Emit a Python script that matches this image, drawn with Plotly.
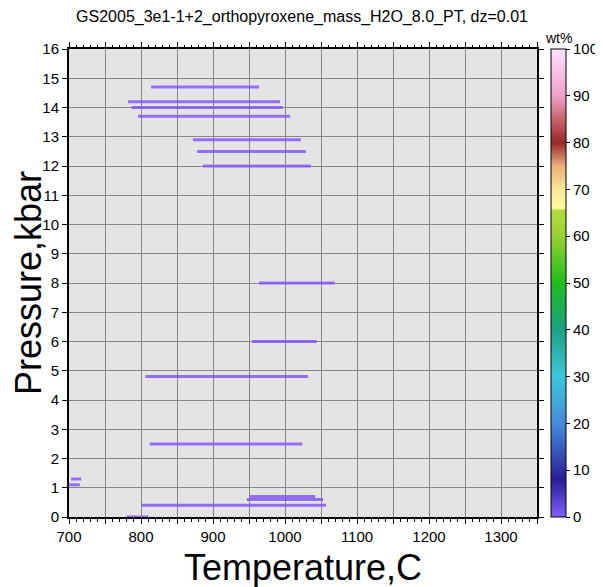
import plotly.graph_objects as go

# segment data: start temperature, end temperature (C), pressure (kbar)
t_start = [814, 782, 787, 796, 872, 878, 886, 964, 954, 806, 812, 703, 700, 951, 947, 801, 780]
t_end   = [964, 993, 997, 1007, 1022, 1029, 1036, 1069, 1044, 1032, 1024, 717, 715, 1042, 1053, 1057, 810]
pressure = [14.7, 14.2, 14.0, 13.7, 12.9, 12.5, 12.0, 8.0, 6.0, 4.8, 2.5, 1.3, 1.1, 0.7, 0.6, 0.4, 0.0]

x_tick_vals = list(range(700, 1351, 50))
x_tick_text = [str(v) if v % 100 == 0 else "" for v in x_tick_vals]
y_tick_vals = list(range(0, 17))
cb_tick_vals = list(range(0, 101, 10))

colorscale = [
    [0.00, "rgb(128,96,255)"],
    [0.08, "rgb(40,30,150)"],
    [0.20, "rgb(70,140,220)"],
    [0.30, "rgb(60,200,220)"],
    [0.40, "rgb(30,160,130)"],
    [0.50, "rgb(30,190,30)"],
    [0.60, "rgb(150,210,50)"],
    [0.655, "rgb(180,220,60)"],
    [0.66, "rgb(255,250,160)"],
    [0.70, "rgb(250,230,150)"],
    [0.75, "rgb(235,175,125)"],
    [0.80, "rgb(150,40,40)"],
    [0.85, "rgb(200,100,110)"],
    [0.90, "rgb(240,160,200)"],
    [1.00, "rgb(255,225,255)"],
]

xs, ys = [], []
for a, b, p in zip(t_start, t_end, pressure):
    xs += [a, b, None]
    ys += [p, p, None]

fig = go.Figure()
fig.add_trace(go.Scatter(
    x=xs, y=ys, mode="lines",
    line=dict(color="rgba(128,80,255,0.8)", width=3),
    showlegend=False, hoverinfo="skip",
))
fig.add_trace(go.Scatter(
    x=[700], y=[0], mode="markers",
    marker=dict(size=0.1, opacity=0, color=[0], cmin=0, cmax=100,
                colorscale=colorscale, showscale=True,
                colorbar=dict(
                    thickness=15, thicknessmode="pixels",
                    len=1, lenmode="fraction", y=0.5, yanchor="middle", ypad=0,
                    x=(551 - 69) / 468, xanchor="left", xpad=0,
                    outlinewidth=1, outlinecolor="black",
                    ticks="outside", ticklen=4, tickcolor="black",
                    tickvals=cb_tick_vals, tickprefix=" ",
                    tickfont=dict(size=15, color="black", family="Liberation Sans"),
                )),
    showlegend=False, hoverinfo="skip",
))

# page body has an 8px margin, so figure is laid out 8px smaller/offset
W, H = 595, 579
axis_font = dict(family="Liberation Sans", size=15, color="black")
fig.update_layout(
    width=W, height=H,
    margin=dict(l=61, r=66, t=41, b=70, autoexpand=False),
    paper_bgcolor="white",
    plot_bgcolor="rgb(228,228,228)",
    title=dict(text="GS2005_3e1-1+2_orthopyroxene_mass_H2O_8.0_PT, dz=0.01",
               x=(302 - 8) / W, xanchor="center", y=1 - 8 / H, yanchor="middle",
               font=dict(family="Liberation Sans", size=16, color="black")),
    xaxis=dict(range=[700, 1350], tickvals=x_tick_vals, ticktext=x_tick_text,
               showgrid=True, gridcolor="rgb(135,135,135)", gridwidth=1,
               ticks="outside", ticklen=5, tickcolor="black",
               minor=dict(dtick=10, ticks="outside", ticklen=2.5, tickcolor="black", showgrid=False),
               showline=True, linecolor="black", linewidth=2, mirror="allticks",
               zeroline=False, tickfont=axis_font),
    yaxis=dict(range=[0, 16], tickvals=y_tick_vals,
               showgrid=True, gridcolor="rgb(135,135,135)", gridwidth=1,
               ticks="outside", ticklen=5, tickcolor="black",
               showline=True, linecolor="black", linewidth=2, mirror="allticks",
               zeroline=False, tickfont=axis_font),
    annotations=[
        dict(text="Temperature,C", xref="paper", yref="paper",
             x=0.5, y=(517 - 567) / 468, xanchor="center", yanchor="middle",
             showarrow=False, font=dict(family="Liberation Sans", size=36, color="black")),
        dict(text="Pressure,kbar", xref="paper", yref="paper",
             x=(28 - 69) / 468, y=0.5, xanchor="center", yanchor="middle", textangle=-90,
             showarrow=False, font=dict(family="Liberation Sans", size=36, color="black")),
        dict(text="wt%", xref="paper", yref="paper",
             x=(558 - 69) / 468, y=1 + (49 - 38) / 468, xanchor="center", yanchor="middle",
             showarrow=False, font=dict(family="Liberation Sans", size=14, color="black")),
    ],
)

fig.write_html("out.html")
